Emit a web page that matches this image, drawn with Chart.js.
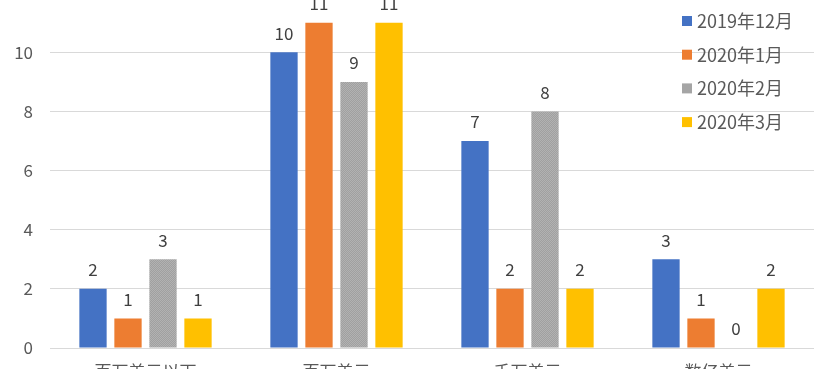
<!DOCTYPE html>
<html>
<head>
<meta charset="utf-8">
<script src="https://cdn.jsdelivr.net/npm/chart.js@4"></script>
<style>
  html, body { margin: 0; padding: 0; background: #fff; overflow: hidden; }
  #wrap { position: absolute; left: 0; top: -34px; width: 837px; height: 424px; }
</style>
</head>
<body>
<div id="wrap"><canvas id="chartCanvas"></canvas></div>
<script>
// funding size buckets, counts per month
const categories = ["百万美元以下", "百万美元", "千万美元", "数亿美元"];
const months = ["2019年12月", "2020年1月", "2020年2月", "2020年3月"];
const dec2019 = [2, 10, 7, 3];
const jan2020 = [1, 11, 2, 1];
const feb2020 = [3, 9, 8, 0];
const mar2020 = [1, 11, 2, 2];
const yTicks = [0, 2, 4, 6, 8, 10, 12];

const FONT = "'Noto Sans CJK SC', 'Noto Sans', sans-serif";
const TEXT = '#595959';

// gray bars in the original have a dotted texture
function grayPattern() {
    const c = document.createElement('canvas');
    c.width = 2; c.height = 2;
    const g = c.getContext('2d');
    g.fillStyle = '#a0a0a0'; g.fillRect(0, 0, 2, 2);
    g.fillStyle = '#b2b2b2'; g.fillRect(0, 0, 1, 1); g.fillRect(1, 1, 1, 1);
    return g.createPattern(c, 'repeat');
}

const colors = ['#4472C4', '#ED7D31', grayPattern(), '#FFC000'];
const legendColors = ['#4472C4', '#ED7D31', '#A5A5A5', '#FFC000'];
const series = [dec2019, jan2020, feb2020, mar2020];
const OFFSET = 34; // canvas is shifted up, like the cropped original

// value labels above each bar
const valueLabels = {
    id: 'valueLabels',
    afterDatasetsDraw(chart) {
        const ctx = chart.ctx;
        ctx.save();
        ctx.font = '17px ' + FONT;
        ctx.fillStyle = '#404040';
        ctx.textAlign = 'center';
        ctx.textBaseline = 'middle';
        chart.data.datasets.forEach((ds, i) => {
            chart.getDatasetMeta(i).data.forEach((bar, j) => {
                ctx.fillText(ds.data[j], bar.x, bar.y - 19);
            });
        });
        ctx.restore();
    }
};

// Excel-style legend sitting on top of the plot
const overLegend = {
    id: 'overLegend',
    afterDraw(chart) {
        const ctx = chart.ctx;
        ctx.save();
        ctx.font = '18px ' + FONT;
        ctx.textBaseline = 'middle';
        chart.data.datasets.forEach((ds, i) => {
            const y = OFFSET + 21 + i * 33.7;
            ctx.fillStyle = legendColors[i];
            ctx.fillRect(682, y - 5, 10, 10);
            ctx.fillStyle = TEXT;
            ctx.fillText(ds.label, 697, y);
        });
        ctx.restore();
    }
};

new Chart(document.getElementById('chartCanvas'), {
    type: 'bar',
    data: {
        labels: categories,
        datasets: series.map((d, i) => ({
            label: months[i],
            data: d,
            backgroundColor: colors[i],
            categoryPercentage: 0.733,
            barPercentage: 0.78
        }))
    },
    options: {
        responsive: true,
        maintainAspectRatio: false,
        animation: false,
        layout: { padding: { top: 16, right: 23, bottom: 0, left: 0 } },
        plugins: { legend: { display: false }, tooltip: { enabled: false } },
        scales: {
            x: {
                grid: { display: false },
                border: { display: false },
                ticks: { color: TEXT, font: { family: FONT, size: 17 }, padding: 5 },
                afterFit(axis) { axis.height = 42; }
            },
            y: {
                min: 0,
                max: yTicks[yTicks.length - 1],
                afterBuildTicks(axis) { axis.ticks = yTicks.map(v => ({ value: v })); },
                grid: { color: '#d9d9d9', lineWidth: 1, drawTicks: false },
                border: { display: false },
                ticks: { color: TEXT, font: { family: FONT, size: 17 }, padding: 17 },
                afterFit(axis) { axis.width = 50; }
            }
        }
    },
    plugins: [valueLabels, overLegend]
});
</script>
</body>
</html>
